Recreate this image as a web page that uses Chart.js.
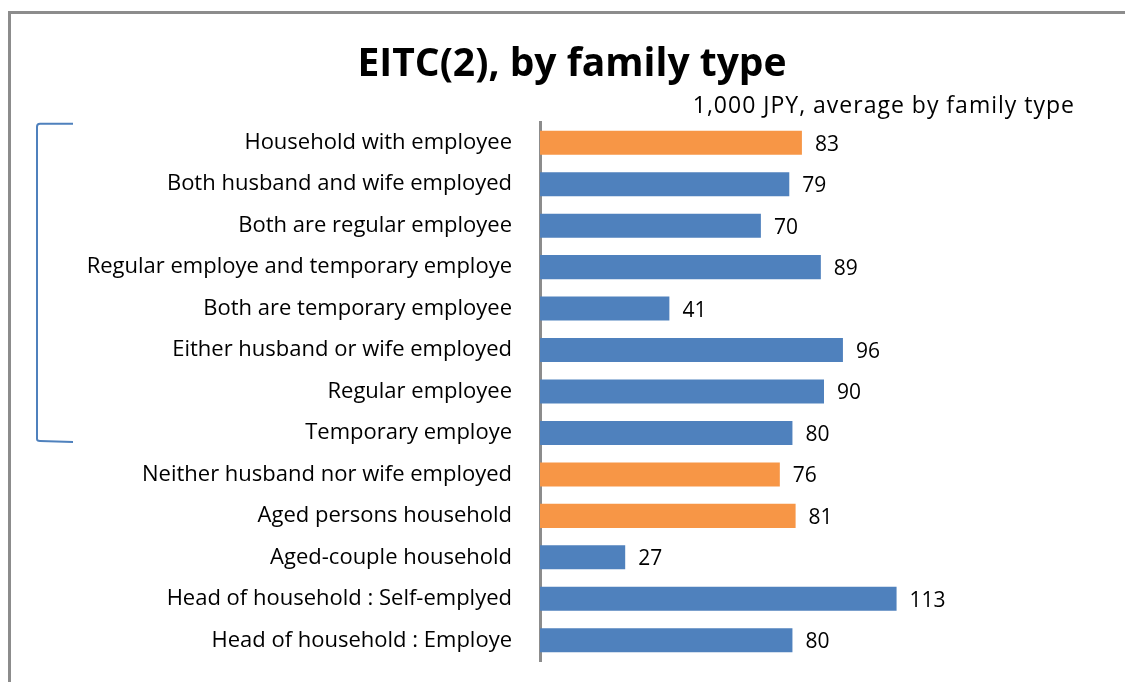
<!DOCTYPE html>
<html>
<head>
<meta charset="utf-8">
<script src="https://cdn.jsdelivr.net/npm/chart.js@4"></script>
<style>
  html, body { margin: 0; padding: 0; background: #fff; }
  #wrap { width: 1125px; height: 682px; }
</style>
</head>
<body>
<div id="wrap"><canvas id="eitcChart" width="1125" height="682"></canvas></div>
<script>
// EITC amounts by family type (1,000 JPY)
const familyTypes = [
  "Household with employee",
  "Both husband and wife employed",
  "Both are regular employee",
  "Regular employe and temporary employe",
  "Both are temporary employee",
  "Either husband or wife employed",
  "Regular employee",
  "Temporary employe",
  "Neither husband nor wife employed",
  "Aged persons household",
  "Aged-couple household",
  "Head of household : Self-emplyed",
  "Head of household : Employe"
];
const eitcValues = [83, 79, 70, 89, 41, 96, 90, 80, 76, 81, 27, 113, 80];
// summary rows get the orange bar
const summaryRows = [0, 8, 9];

const titleText = "EITC(2), by family type";
const unitText = "1,000 JPY, average by family type";

const BLUE = '#4F81BD';
const ORANGE = '#F79646';
const FONT = "'Open Sans', 'Noto Sans', sans-serif";

const barColors = familyTypes.map((_, i) => summaryRows.includes(i) ? ORANGE : BLUE);

// frame, title, unit note, bracket and value labels
const decorations = {
  id: 'decorations',
  beforeDraw(chart) {
    const ctx = chart.ctx;
    ctx.save();
    ctx.strokeStyle = '#8c8c8c';
    ctx.lineWidth = 3;
    ctx.beginPath();
    ctx.moveTo(9.5, 682);
    ctx.lineTo(9.5, 12.5);
    ctx.lineTo(1125, 12.5);
    ctx.stroke();
    ctx.restore();
  },
  afterDraw(chart) {
    const ctx = chart.ctx;
    const y = chart.scales.y;
    const x = chart.scales.x;
    ctx.save();

    ctx.fillStyle = '#000';
    ctx.textBaseline = 'alphabetic';
    ctx.font = "bold 39px " + FONT;
    ctx.textAlign = 'center';
    ctx.fillText(titleText, 572, 76);

    ctx.font = "23px " + FONT;
    ctx.letterSpacing = '1px';
    ctx.textAlign = 'right';
    ctx.fillText(unitText, 1075, 113);
    ctx.letterSpacing = '0px';

    // bracket grouping the employee household rows
    const top = y.getPixelForValue(0) - 19;
    const bottom = y.getPixelForValue(7) + 8;
    ctx.strokeStyle = BLUE;
    ctx.lineWidth = 2;
    ctx.beginPath();
    ctx.moveTo(73, top);
    ctx.lineTo(40, top);
    ctx.quadraticCurveTo(37, top, 37, top + 3);
    ctx.lineTo(37, bottom - 2);
    ctx.quadraticCurveTo(37, bottom, 40, bottom);
    ctx.lineTo(73, bottom + 1);
    ctx.stroke();

    // value labels at the end of each bar
    ctx.font = "21px " + FONT;
    ctx.textAlign = 'left';
    ctx.textBaseline = 'middle';
    eitcValues.forEach((v, i) => {
      ctx.fillText(String(v), x.getPixelForValue(v) + 13, y.getPixelForValue(i) + 2);
    });
    ctx.restore();
  }
};

new Chart(document.getElementById('eitcChart'), {
  type: 'bar',
  data: {
    labels: familyTypes,
    datasets: [{
      data: eitcValues,
      backgroundColor: barColors,
      borderWidth: 0,
      barPercentage: 0.58,
      categoryPercentage: 1.0
    }]
  },
  options: {
    indexAxis: 'y',
    responsive: false,
    animation: false,
    layout: { padding: { top: 122, bottom: 21, left: 0, right: 17 } },
    plugins: {
      legend: { display: false },
      tooltip: { enabled: false }
    },
    scales: {
      x: {
        display: false,
        min: 0,
        max: 180
      },
      y: {
        afterFit(scale) { scale.width = 540; },
        // invisible tick marks push the labels away from the axis line
        grid: { display: true, color: 'transparent', drawOnChartArea: false, drawTicks: true, tickLength: 28 },
        border: { display: true, color: '#8c8c8c', width: 3 },
        ticks: {
          color: '#000',
          padding: 0,
          font: { family: FONT, size: 22 }
        }
      }
    }
  },
  plugins: [decorations]
});
</script>
</body>
</html>
